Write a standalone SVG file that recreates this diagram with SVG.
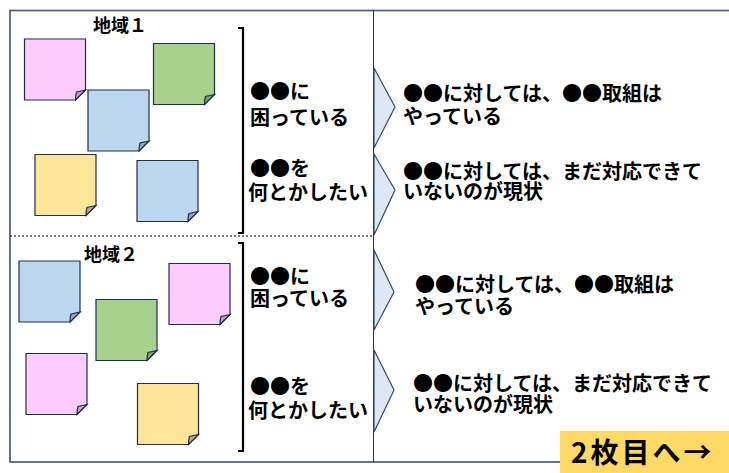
<svg xmlns="http://www.w3.org/2000/svg" width="729" height="473" viewBox="0 0 729 473">
<style>
.t{font-family:"Noto Sans CJK JP","Noto Sans",sans-serif;font-weight:bold;fill:#000;}
.m{font-size:20px;}
.h{font-size:18px;}
.n{stroke:#1f2f4f;stroke-width:1.2;}
.pink{fill:#ffccff;}
.blue{fill:#bdd7ee;}
.green{fill:#a9d18e;}
.yellow{fill:#ffe699;}
.fpink{fill:#c4a0c8;}
.fblue{fill:#8ea7c2;}
.fgreen{fill:#7f9e6a;}
.fyellow{fill:#c4ad70;}
.chev{fill:#dde8f4;stroke:#2f4a70;stroke-width:1.2;}
.br{fill:none;stroke:#000;stroke-width:2.2;}
</style>
<rect width="729" height="473" fill="#fff"/>
<g id="frame">
<rect x="10" y="10.5" width="740" height="451.5" fill="none" stroke="#56657f" stroke-width="1.8"/>
<line x1="373.5" y1="10" x2="373.5" y2="462" stroke="#333" stroke-width="1"/>
<line x1="10" y1="236" x2="373" y2="236" stroke="#000" stroke-width="1" stroke-dasharray="2,2"/>
</g>
<g id="region1">
<text class="t h" x="93" y="32">地域１</text>
<g id="r1n1" class="n"><path class="pink" d="M24.5,39 H85.5 V90 L75.5,100 H24.5 Z"/><path class="fpink" d="M85.5,90 L76.5,92 Q75.5,95 75.5,100 Z"/></g>
<g id="r1n2" class="n"><path class="blue" d="M88,90 H149 V141 L139,151 H88 Z"/><path class="fblue" d="M149,141 L140,143 Q139,146 139,151 Z"/></g>
<g id="r1n3" class="n"><path class="green" d="M153.5,43.5 H214.5 V94.5 L204.5,104.5 H153.5 Z"/><path class="fgreen" d="M214.5,94.5 L205.5,96.5 Q204.5,99.5 204.5,104.5 Z"/></g>
<g id="r1n4" class="n"><path class="yellow" d="M35,154.5 H96 V205.5 L86,215.5 H35 Z"/><path class="fyellow" d="M96,205.5 L87,207.5 Q86,210.5 86,215.5 Z"/></g>
<g id="r1n5" class="n"><path class="blue" d="M137,160.5 H198 V211.5 L188,221.5 H137 Z"/><path class="fblue" d="M198,211.5 L189,213.5 Q188,216.5 188,221.5 Z"/></g>
</g>
<g id="region2">
<text class="t h" x="84" y="261">地域２</text>
<g id="r2n1" class="n"><path class="blue" d="M19,261 H80 V312 L70,322 H19 Z"/><path class="fblue" d="M80,312 L71,314 Q70,317 70,322 Z"/></g>
<g id="r2n2" class="n"><path class="green" d="M96,299.5 H157 V350.5 L147,360.5 H96 Z"/><path class="fgreen" d="M157,350.5 L148,352.5 Q147,355.5 147,360.5 Z"/></g>
<g id="r2n3" class="n"><path class="pink" d="M169,263.5 H230 V314.5 L220,324.5 H169 Z"/><path class="fpink" d="M230,314.5 L221,316.5 Q220,319.5 220,324.5 Z"/></g>
<g id="r2n4" class="n"><path class="pink" d="M26,353.5 H87 V404.5 L77,414.5 H26 Z"/><path class="fpink" d="M87,404.5 L78,406.5 Q77,409.5 77,414.5 Z"/></g>
<g id="r2n5" class="n"><path class="yellow" d="M137.5,383.5 H198.5 V434.5 L188.5,444.5 H137.5 Z"/><path class="fyellow" d="M198.5,434.5 L189.5,436.5 Q188.5,439.5 188.5,444.5 Z"/></g>
</g>
<g id="brackets">
<path class="br" d="M238,28 H243 V233 H238"/>
<path class="br" d="M238,243 H243 V451 H238"/>
</g>
<g id="issues1">
<text class="t m" x="250" y="99">●●に<tspan x="250" dy="26">困っている</tspan></text>
<text class="t m" x="250" y="176">●●を<tspan x="248" dy="24">何とかしたい</tspan></text>
</g>
<g id="issues2">
<text class="t m" x="250" y="284">●●に<tspan x="250" dy="22">困っている</tspan></text>
<text class="t m" x="250" y="394">●●を<tspan x="248" dy="24">何とかしたい</tspan></text>
</g>
<g id="connectors">
<path class="chev" d="M374,68 L395,107 L374,148 Z"/>
<path class="chev" d="M374,154 L395,190 L374,235 Z"/>
<path class="chev" d="M374,250 L394,292 L374,330 Z"/>
<path class="chev" d="M374,350 L394,390 L374,432 Z"/>
</g>
<g id="status1">
<text class="t m" x="403" y="101">●●に対しては、●●取組は<tspan x="403" dy="23">やっている</tspan></text>
<text class="t m" x="403" y="179">●●に対しては、まだ対応できて<tspan x="403" dy="20">いないのが現状</tspan></text>
</g>
<g id="status2">
<text class="t m" x="415" y="292">●●に対しては、●●取組は<tspan x="415" dy="22">やっている</tspan></text>
<text class="t m" x="413" y="391">●●に対しては、まだ対応できて<tspan x="413" dy="21">いないのが現状</tspan></text>
</g>
<g id="next">
<rect x="560" y="431" width="169" height="42" fill="#ffd966"/>
<text class="t" x="571" y="463" font-size="28" letter-spacing="3">2枚目へ→</text>
</g>
</svg>
